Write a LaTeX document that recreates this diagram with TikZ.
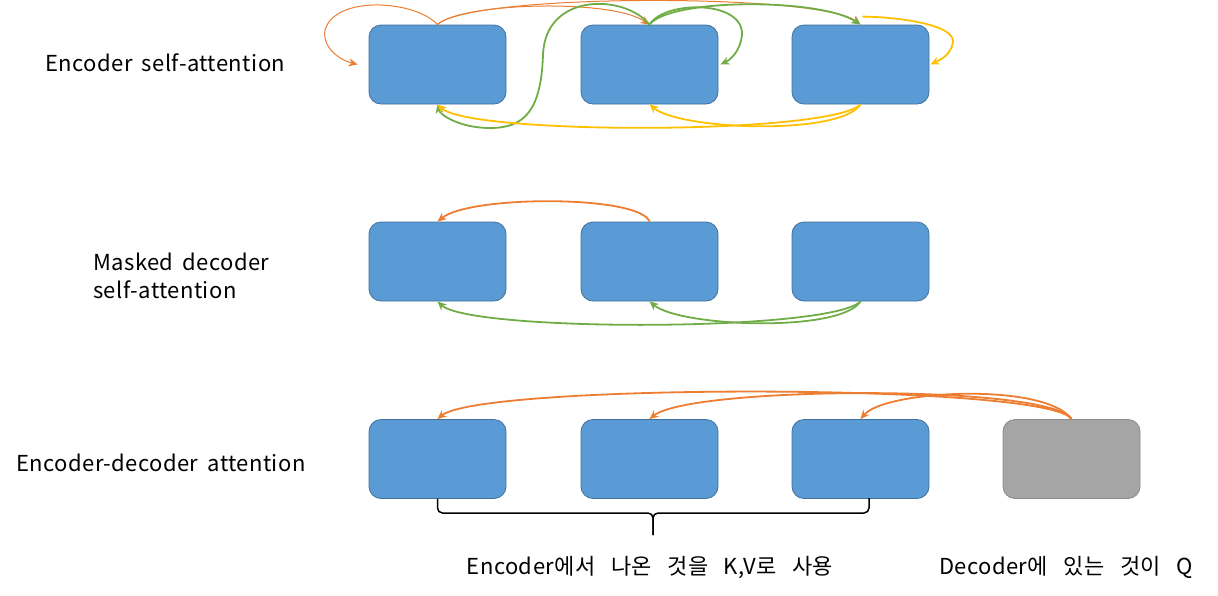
\documentclass[tikz,border=0pt]{standalone}
\usepackage{fontspec}
\setmainfont{Noto Sans CJK KR}[LetterSpace=2]
\usetikzlibrary{arrows.meta,calc}
\definecolor{boxblue}{HTML}{5B9BD5}
\definecolor{boxedge}{HTML}{41719C}
\definecolor{boxgray}{HTML}{A5A5A5}
\definecolor{grayedge}{HTML}{8A8A8A}
\definecolor{aorange}{HTML}{ED7D31}
\definecolor{agreen}{HTML}{70AD47}
\definecolor{ayellow}{HTML}{FFC000}
\newcommand\mylblfont{\fontsize{22pt}{28pt}\selectfont\spaceskip=9.2pt\relax}
\newcommand\mykfont{\fontsize{22pt}{28pt}\selectfont\spaceskip=15.5pt\relax}
\tikzset{
  tok/.style={draw=boxedge, fill=boxblue, line width=0.8pt, rounded corners=12pt, minimum width=137pt, minimum height=79pt, inner sep=0pt},
  qtok/.style={tok, draw=grayedge, fill=boxgray},
  lbl/.style={font=\mylblfont, inner sep=0pt, align=left},
  klbl/.style={font=\mykfont, inner sep=0pt, align=left},
  thinor/.style={draw=aorange, line width=1pt, -{Stealth[length=9pt,width=8pt]}},
  thickor/.style={draw=aorange, line width=1.8pt, -{Stealth[length=9pt,width=8pt]}},
  gr/.style={draw=agreen, line width=1.8pt, -{Stealth[length=9pt,width=8pt]}},
  ye/.style={draw=ayellow, line width=1.8pt, -{Stealth[length=9pt,width=8pt]}},
}
\begin{document}
\begin{tikzpicture}[x=1pt,y=-1pt]
\useasboundingbox (0,0) rectangle (1218,595);
% row 1
\node[tok] (a1) at (437.5,64.5) {};
\node[tok] (a2) at (649.5,64.5) {};
\node[tok] (a3) at (860.5,64.5) {};
% row 2
\node[tok] (m1) at (437.5,261.5) {};
\node[tok] (m2) at (649.5,261.5) {};
\node[tok] (m3) at (860.5,261.5) {};
% row 3
\node[tok] (e1) at (437.5,459) {};
\node[tok] (e2) at (649.5,459) {};
\node[tok] (e3) at (860.5,459) {};
\node[qtok] (q) at (1071.5,459) {};
% labels
\node[lbl, anchor=west] (t1) at (45,63) {Encoder self-attention};
\node[lbl, anchor=west] (t2) at (93,276) {Masked decoder\\self-attention};
\node[lbl, anchor=west] (t3) at (16,463) {Encoder-decoder attention};
\node[klbl] (t4) at (650,567) {Encoder에서 나온 것을 K,V로 사용};
\node[klbl] (t5) at (1066,567) {Decoder에 있는 것이 Q};
% row 1 arrows
\draw[thinor] (a1.north) .. controls (415,0) and (335,-5) .. (325,30) .. controls (322,48) and (340,60) .. ($(a1.west)+(-11,0)$);
\draw[thinor] (a1.north) .. controls (460,3) and (610,-2) .. (a2.north);
\draw[thinor] (a1.north) .. controls (470,-7) and (820,-7) .. (a3.north);
\draw[gr] (a2.north) .. controls (625,-6) and (545,-8) .. (543,55) .. controls (541,110) and (525,128) .. (490,128) .. controls (460,128) and (440,115) .. (a1.south);
\draw[gr] (a2.north) .. controls (665,0) and (744,0) .. (742,35) .. controls (740,52) and (730,60) .. ($(a2.east)+(2,0)$);
\draw[gr] (a2.north) .. controls (670,-2) and (820,-2) .. (a3.north);
\draw[ye] ($(a3.north)+(2,-8)$) .. controls (900,17) and (955,25) .. (953,42) .. controls (951,55) and (940,60) .. ($(a3.east)+(1,0)$);
\draw[ye] (a3.south) .. controls (830,135) and (470,135) .. (a1.south);
\draw[ye] (a3.south) .. controls (840,136) and (680,130) .. (a2.south);
% row 2 arrows
\draw[thickor] (m2.north) .. controls (640,195) and (470,195) .. (m1.north);
\draw[gr] (m3.south) .. controls (830,332) and (470,332) .. (m1.south);
\draw[gr] (m3.south) .. controls (840,333) and (680,327) .. (m2.south);
% row 3 arrows
\draw[thickor] (q.north) .. controls (1050,383) and (480,383) .. (e1.north);
\draw[thickor] (q.north) .. controls (1050,384) and (690,386) .. (e2.north);
\draw[thickor] (q.north) .. controls (1045,382) and (885,390) .. (e3.north);
% brace
\draw[line width=1.5pt, rounded corners=5pt] (e1.south) -- (437.5,513) -- (653,513) -- (653,535);
\draw[line width=1.5pt, rounded corners=5pt] (869,498) -- (869,513) -- (653,513) -- (653,535);
\end{tikzpicture}
\end{document}
